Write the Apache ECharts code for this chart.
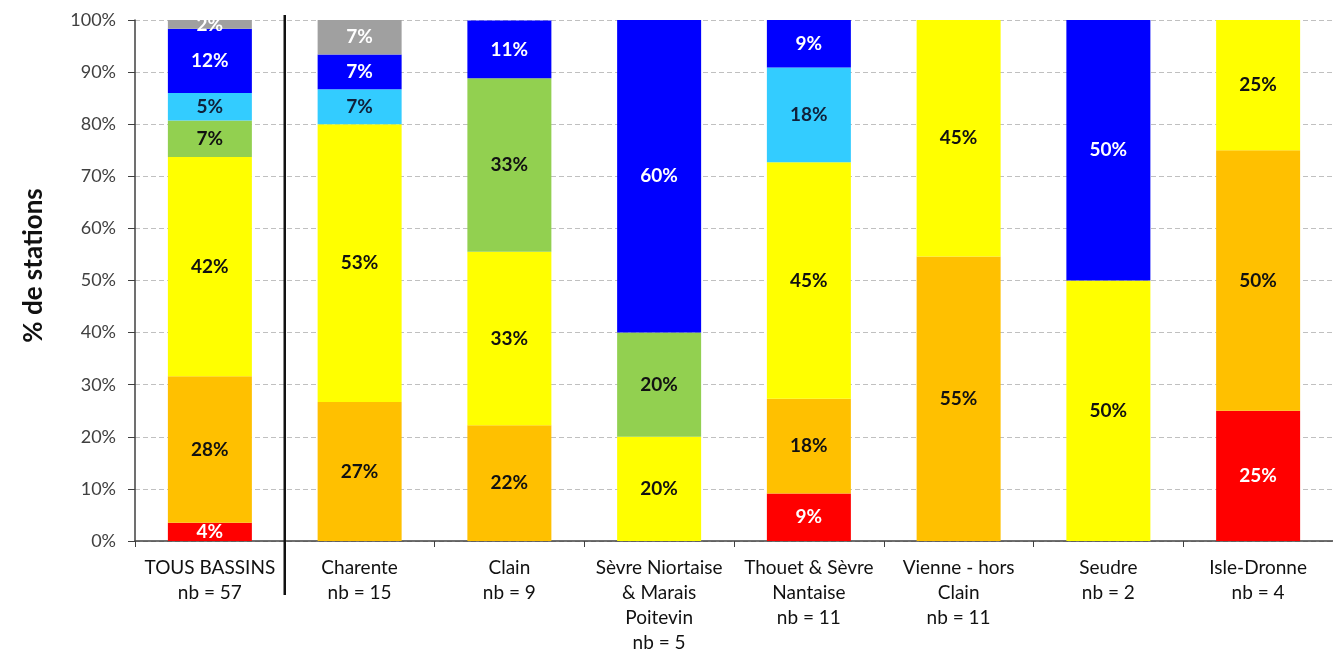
<!DOCTYPE html>
<html><head><meta charset="utf-8">
<script src="https://cdn.jsdelivr.net/npm/echarts@6/dist/echarts.min.js"></script>
<style>html,body{margin:0;padding:0;background:#fff}#c{width:1333px;height:655px}</style>
</head><body><div id="c"></div>
<script>
const categories = ['TOUS BASSINS\nnb = 57','Charente\nnb = 15','Clain\nnb = 9','Sèvre Niortaise\n& Marais\nPoitevin\nnb = 5','Thouet & Sèvre\nNantaise\nnb = 11','Vienne - hors\nClain\nnb = 11','Seudre\nnb = 2','Isle-Dronne\nnb = 4'];
const yTicks = [0,10,20,30,40,50,60,70,80,90,100];
const red       = [3.5, 0,    0,    0,  9.1,  0,    0,  25];
const orange    = [28.1,26.7, 22.2, 0,  18.2, 54.6, 0,  50];
const yellow    = [42.1,53.3, 33.3, 20, 45.4, 45.4, 50, 25];
const green     = [7.0, 0,    33.3, 20, 0,    0,    0,  0];
const lightblue = [5.3, 6.7,  0,    0,  18.2, 0,    0,  0];
const blue      = [12.3,6.7,  11.1, 60, 9.1,  0,    50, 0];
const gray      = [1.75,6.7,  0,    0,  0,    0,    0,  0];

const FONT = 'Lato';
const seriesDefs = [
  {name:'rouge', data:red, color:'#FF0000', lc:'#ffffff'},
  {name:'orange', data:orange, color:'#FFC000', lc:'#111111'},
  {name:'jaune', data:yellow, color:'#FFFF00', lc:'#111111'},
  {name:'vert', data:green, color:'#92D050', lc:'#111111'},
  {name:'bleu clair', data:lightblue, color:'#33CCFF', lc:'#10203a'},
  {name:'bleu', data:blue, color:'#0000FF', lc:'#ffffff'},
  {name:'gris', data:gray, color:'#A0A0A0', lc:'#ffffff'}
];
const chart = echarts.init(document.getElementById('c'));
chart.setOption({
  animation:false,
  grid:{left:135,right:-6,top:20,bottom:112,containLabel:false},
  xAxis:{type:'category',data:categories,
    axisLine:{lineStyle:{color:'#404040',width:1.5}},
    axisTick:{show:true,length:6,lineStyle:{color:'#404040'}},
    axisLabel:{color:'#111',fontFamily:FONT,fontSize:19,lineHeight:25,margin:14,interval:0}},
  yAxis:{type:'value',min:0,max:100,interval:10,
    name:'% de stations',nameLocation:'middle',nameRotate:90,nameGap:88,
    nameTextStyle:{fontFamily:FONT,fontSize:26,fontWeight:'bold',color:'#111',padding:[0,0,0,30]},
    axisLine:{show:true,lineStyle:{color:'#404040',width:1.5}},
    axisTick:{show:true,length:7,lineStyle:{color:'#404040'}},
    axisLabel:{formatter:'{value}%',color:'#404040',fontFamily:FONT,fontSize:18,margin:19},
    splitLine:{show:true,lineStyle:{color:'#c0c0c0',type:[5,3],width:1}}},
  series: seriesDefs.map(s=>({
    name:s.name,type:'bar',stack:'tot',barWidth:84,data:s.data,
    itemStyle:{color:s.color},
    label:{show:true,position:'inside',fontFamily:FONT,fontSize:19,fontWeight:'bold',color:s.lc,
      formatter:p=>p.value>0?Math.round(p.value)+'%':''}
  }))
});
const x0 = chart.convertToPixel({xAxisIndex:0}, categories[0]);
const x1 = chart.convertToPixel({xAxisIndex:0}, categories[1]);
const yTop = chart.convertToPixel({yAxisIndex:0}, 100);
chart.setOption({graphic:[{type:'line',shape:{x1:(x0+x1)/2,y1:yTop-5,x2:(x0+x1)/2,y2:595},style:{stroke:'#111',lineWidth:2.5},z:100}]});
</script></body></html>
